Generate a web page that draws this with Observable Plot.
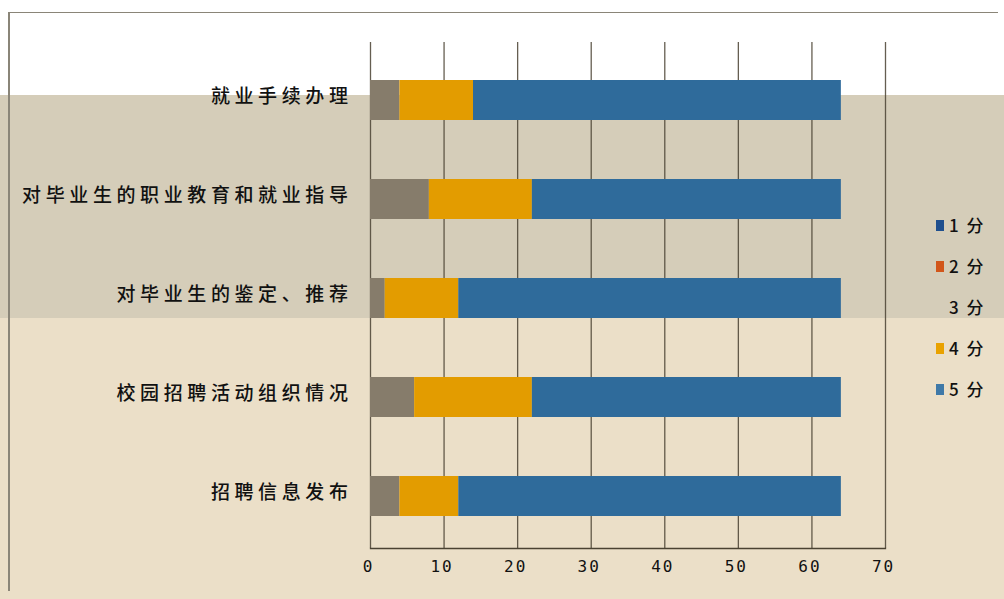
<!DOCTYPE html>
<html>
<head>
<meta charset="utf-8">
<script src="https://cdn.jsdelivr.net/npm/d3@7"></script>
<script src="https://cdn.jsdelivr.net/npm/@observablehq/plot@0.6"></script>
<style>
  html, body { margin: 0; padding: 0; background: #ffffff; }
  #wrap {
    position: relative; width: 1004px; height: 599px; overflow: hidden;
    background: linear-gradient(to bottom, #ffffff 0px, #ffffff 95px, #d5cdb9 95px, #d5cdb9 318px, #ebdfc8 318px, #ebdfc8 599px);
  }
  #frame {
    position: absolute; left: 8px; top: 12px; width: 988px; height: 578px;
    border-left: 2px solid #8a8578; border-top: 1px solid #8a8578; pointer-events: none;
  }
  #chart { position: absolute; left: 0; top: 0; }
  #legend {
    position: absolute; left: 936px; top: 212px;
    font-family: "Noto Sans CJK SC", "DejaVu Sans", sans-serif; font-size: 17px; font-weight: 500; color: #111; letter-spacing: 2px;
  }
  .item { height: 41px; display: flex; align-items: flex-start; }
  .sw { width: 8px; height: 11px; margin-top: 8px; margin-right: 5px; }
  .ylab text { letter-spacing: 4.6px; font-weight: 500; }
  .xlab text { letter-spacing: 2px; }
</style>
</head>
<body>
<div id="wrap">
  <div id="chart"></div>
  <div id="frame"></div>
  <div id="legend"></div>
</div>
<script>
const categories = ["就业手续办理", "对毕业生的职业教育和就业指导", "对毕业生的鉴定、推荐", "校园招聘活动组织情况", "招聘信息发布"];
const seriesNames = ["1 分", "2 分", "3 分", "4 分", "5 分"];
const score1 = [0, 0, 0, 0, 0];
const score2 = [0, 0, 0, 0, 0];
const score3 = [4, 8, 2, 6, 4];
const score4 = [10, 14, 10, 16, 8];
const score5 = [50, 42, 52, 42, 52];
const xTicks = [0, 10, 20, 30, 40, 50, 60, 70];
const colors = ["#1f4f8e", "#d2561a", "#867c6b", "#e39c00", "#2f6b9b"];
const legendColors = ["#1f4f8e", "#d2561a", "transparent", "#e9a200", "#3f79a8"];

const allSeries = [score1, score2, score3, score4, score5];
const rows = [];
categories.forEach((c, i) => {
  allSeries.forEach((s, j) => rows.push({category: c, series: seriesNames[j], value: s[i]}));
});

const chart = Plot.plot({
  width: 1004,
  height: 599,
  marginLeft: 370,
  marginRight: 119,
  marginTop: 42,
  marginBottom: 51,
  style: {background: "transparent", fontFamily: "\"Noto Sans CJK SC\", sans-serif"},
  x: {domain: [0, 70], ticks: xTicks},
  y: {domain: categories, paddingInner: 0.596, paddingOuter: 0.353, align: 0.54},
  color: {domain: seriesNames, range: colors},
  marks: [
    Plot.gridX(xTicks, {stroke: "#4a4232", strokeOpacity: 0.85, strokeWidth: 1.3}),
    Plot.barX(rows, Plot.stackX({order: seriesNames, y: "category", x: "value", fill: "series"})),
    Plot.frame({anchor: "bottom", stroke: "#4a4232", strokeWidth: 1.3}),
    Plot.axisX(xTicks, {tickSize: 0, tickPadding: 12, fontSize: 16, fill: "#111", dx: -2, fontFamily: "\"DejaVu Sans Mono\", monospace", label: null, className: "xlab"}),
    Plot.axisY({tickSize: 0, tickPadding: 18, fontSize: 19, fill: "#111", dy: -4, label: null, className: "ylab"})
  ]
});
document.getElementById("chart").appendChild(chart);

const legend = document.getElementById("legend");
seriesNames.forEach((n, i) => {
  const item = document.createElement("div");
  item.className = "item";
  const sw = document.createElement("div");
  sw.className = "sw";
  sw.style.background = legendColors[i];
  const t = document.createElement("span");
  t.textContent = n;
  item.appendChild(sw);
  item.appendChild(t);
  legend.appendChild(item);
});
</script>
</body>
</html>
